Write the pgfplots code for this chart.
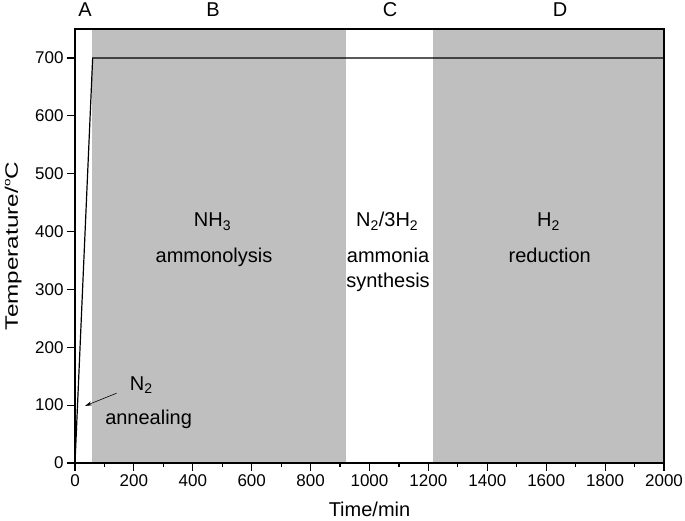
\documentclass[border=0pt]{standalone}
\usepackage{pgfplots}
\pgfplotsset{compat=1.18}
\usepackage{graphicx}
\usepackage{fontspec}
\setmainfont{Liberation Sans}
\usetikzlibrary{arrows.meta}
\newcommand\fa{\fontsize{20}{24}\selectfont}
\begin{document}
\begin{tikzpicture}
\begin{axis}[
 scale only axis, width=589pt, height=434pt,
 xmin=0, xmax=2000, ymin=0, ymax=750,
 xtick={0,200,...,2000}, ytick={0,100,...,700},
 minor x tick num=1,
 tick align=outside, xtick pos=bottom, ytick pos=left,
 major tick length=8pt, minor tick length=4pt,
 axis line style={line width=1.3pt},
 every tick/.style={black, line width=1.2pt},
 tick label style={font=\fontsize{17}{20}\selectfont},
 label style={font=\fa},
 xlabel={Time/min}, ylabel={\scalebox{1.35}[1]{Temperature/\raisebox{0.42em}{\fontsize{10}{11}\selectfont o}C}},
 xlabel style={at={(axis description cs:0.5,-0.1244)}, anchor=base},
 ylabel style={font=\fontsize{18}{22}\selectfont, at={(axis description cs:-0.0968,0.5)}, anchor=base},
 /pgf/number format/assume math mode=true,
 /pgf/number format/set thousands separator={},
 clip=false, axis on top,
]
\addplot[fill=black!25, draw=none] coordinates {(58,0) (58,750) (919,750) (919,0)} -- cycle;
\addplot[fill=black!25, draw=none] coordinates {(1214,0) (1214,750) (2000,750) (2000,0)} -- cycle;
\addplot[black, line width=1.2pt] coordinates {(0,0) (60,700) (2000,700)};
\draw[line width=0.6pt, -{Stealth[length=7pt,width=4pt]}] (axis cs:141,120.6) -- (axis cs:34,98.6);
\node[font=\fa, anchor=base] at (axis cs:34,771) {A};
\node[font=\fa, anchor=base] at (axis cs:469,771) {B};
\node[font=\fa, anchor=base] at (axis cs:1070,771) {C};
\node[font=\fa, anchor=base] at (axis cs:1647,771) {D};
\node[font=\fa, anchor=base] at (axis cs:467,408) {NH\textsubscript{3}};
\node[font=\fa, anchor=base] at (axis cs:472,346) {ammonolysis};
\node[font=\fa, anchor=base] at (axis cs:1060,408) {N\textsubscript{2}/3H\textsubscript{2}};
\node[font=\fa, anchor=base] at (axis cs:1063,346) {ammonia};
\node[font=\fa, anchor=base] at (axis cs:1063,303) {synthesis};
\node[font=\fa, anchor=base] at (axis cs:1608,408) {H\textsubscript{2}};
\node[font=\fa, anchor=base] at (axis cs:1612,346) {reduction};
\node[font=\fa, anchor=base] at (axis cs:225,126) {N\textsubscript{2}};
\node[font=\fa, anchor=base] at (axis cs:250,67) {annealing};
\end{axis}
\pgfresetboundingbox
\path ([shift={(-75pt,-58pt)}]current axis.south west) rectangle ([shift={(21pt,29pt)}]current axis.north east);
\end{tikzpicture}
\end{document}
